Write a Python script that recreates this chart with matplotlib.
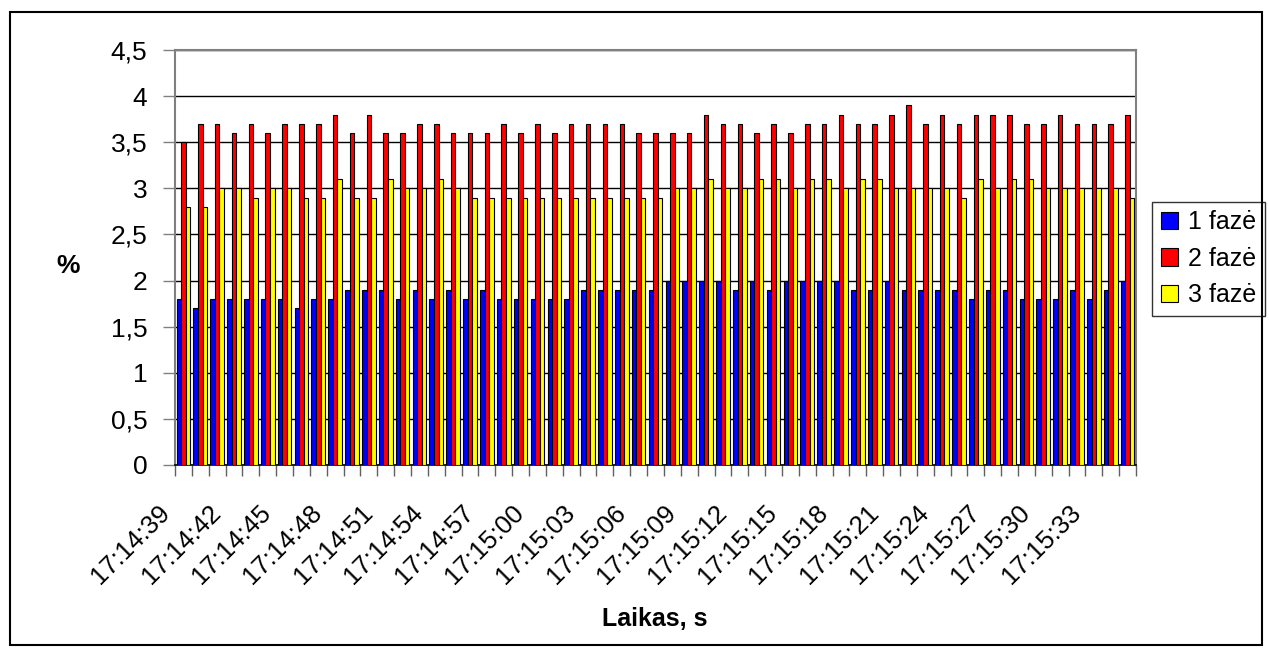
import numpy as np
import matplotlib.pyplot as plt
from matplotlib.patches import Rectangle
from matplotlib.transforms import ScaledTranslation

plt.rcParams['font.family'] = ['Liberation Sans', 'DejaVu Sans']

# time stamps, one per second
times = ["17:14:39", "17:14:40", "17:14:41", "17:14:42", "17:14:43", "17:14:44",
         "17:14:45", "17:14:46", "17:14:47", "17:14:48", "17:14:49", "17:14:50",
         "17:14:51", "17:14:52", "17:14:53", "17:14:54", "17:14:55", "17:14:56",
         "17:14:57", "17:14:58", "17:14:59", "17:15:00", "17:15:01", "17:15:02",
         "17:15:03", "17:15:04", "17:15:05", "17:15:06", "17:15:07", "17:15:08",
         "17:15:09", "17:15:10", "17:15:11", "17:15:12", "17:15:13", "17:15:14",
         "17:15:15", "17:15:16", "17:15:17", "17:15:18", "17:15:19", "17:15:20",
         "17:15:21", "17:15:22", "17:15:23", "17:15:24", "17:15:25", "17:15:26",
         "17:15:27", "17:15:28", "17:15:29", "17:15:30", "17:15:31", "17:15:32",
         "17:15:33", "17:15:34", "17:15:35"]

faze1 = [1.8, 1.7, 1.8, 1.8, 1.8, 1.8, 1.8, 1.7, 1.8, 1.8, 1.9, 1.9, 1.9, 1.8, 1.9,
         1.8, 1.9, 1.8, 1.9, 1.8, 1.8, 1.8, 1.8, 1.8, 1.9, 1.9, 1.9, 1.9, 1.9, 2.0,
         2.0, 2.0, 2.0, 1.9, 2.0, 1.9, 2.0, 2.0, 2.0, 2.0, 1.9, 1.9, 2.0, 1.9, 1.9,
         1.9, 1.9, 1.8, 1.9, 1.9, 1.8, 1.8, 1.8, 1.9, 1.8, 1.9, 2.0]
faze2 = [3.5, 3.7, 3.7, 3.6, 3.7, 3.6, 3.7, 3.7, 3.7, 3.8, 3.6, 3.8, 3.6, 3.6, 3.7,
         3.7, 3.6, 3.6, 3.6, 3.7, 3.6, 3.7, 3.6, 3.7, 3.7, 3.7, 3.7, 3.6, 3.6, 3.6,
         3.6, 3.8, 3.7, 3.7, 3.6, 3.7, 3.6, 3.7, 3.7, 3.8, 3.7, 3.7, 3.8, 3.9, 3.7,
         3.8, 3.7, 3.8, 3.8, 3.8, 3.7, 3.7, 3.8, 3.7, 3.7, 3.7, 3.8]
faze3 = [2.8, 2.8, 3.0, 3.0, 2.9, 3.0, 3.0, 2.9, 2.9, 3.1, 2.9, 2.9, 3.1, 3.0, 3.0,
         3.1, 3.0, 2.9, 2.9, 2.9, 2.9, 2.9, 2.9, 2.9, 2.9, 2.9, 2.9, 2.9, 2.9, 3.0,
         3.0, 3.1, 3.0, 3.0, 3.1, 3.1, 3.0, 3.1, 3.1, 3.0, 3.1, 3.1, 3.0, 3.0, 3.0,
         3.0, 2.9, 3.1, 3.0, 3.1, 3.1, 3.0, 3.0, 3.0, 3.0, 3.0, 2.9]

series = [("1 fazė", faze1, "#0000FF"),
          ("2 fazė", faze2, "#FF0000"),
          ("3 fazė", faze3, "#FFFF00")]

W, H = 1269, 653
fig = plt.figure(figsize=(W / 100, H / 100), dpi=100)
ax = fig.add_axes([175 / W, (H - 465) / H, (1136 - 175) / W, (465 - 50) / H])

x = np.arange(len(times))
bw = 0.27
for k, (name, vals, col) in enumerate(series):
    ax.bar(x + (k - 1) * bw, vals, width=bw, color=col, edgecolor='black',
           linewidth=0.8, label=name, zorder=3)

ax.set_xlim(-0.5, len(times) - 0.5)
ax.set_ylim(0, 4.5)
yt = np.arange(0, 4.51, 0.5)
ax.set_yticks(yt)
ax.set_yticklabels([f"{v:g}".replace('.', ',') for v in yt], fontsize=19)
ax.yaxis.grid(True, color='black', linewidth=1, zorder=0)
ax.tick_params(axis='y', length=9, width=1, color='#808080', pad=11)

# tick marks at category boundaries, labels on every third category
ax.set_xticks(np.arange(-0.5, len(times), 1.0))
ax.set_xticklabels([])
ax.tick_params(axis='x', which='major', length=8, width=1, color='#606060')
ax.set_xticks(x[::3], minor=True)
ax.set_xticklabels(times[::3], minor=True, rotation=45, ha='right',
                   va='center', rotation_mode='anchor', fontsize=18.5)
ax.tick_params(axis='x', which='minor', length=0, pad=0)
shift = ScaledTranslation(-17 / 100, -44 / 100, fig.dpi_scale_trans)
for lab in ax.get_xticklabels(minor=True):
    lab.set_transform(lab.get_transform() + shift)

for s in ['top', 'right', 'left']:
    ax.spines[s].set_color('#808080')
    ax.spines[s].set_linewidth(1.5)
ax.spines['bottom'].set_color('black')
ax.spines['bottom'].set_linewidth(1.2)

fig.text(68 / W, 1 - 266 / H, '%', fontsize=19, fontweight='bold',
         ha='center', va='center')
fig.text(655 / W, 1 - 619 / H, 'Laikas, s', fontsize=18, fontweight='bold',
         ha='center', va='center')

leg = ax.legend(loc='lower left', bbox_to_anchor=(1152 / W, 1 - 316 / H),
                bbox_transform=fig.transFigure, frameon=True, fancybox=False,
                fontsize=18, handlelength=0.7, handleheight=0.7,
                handletextpad=0.4, labelspacing=0.5, borderpad=0.35,
                borderaxespad=0)
leg.get_frame().set_edgecolor('black')
leg.get_frame().set_linewidth(1)

fig.add_artist(Rectangle((10 / W, 1 - 645 / H), 1252 / W, 633 / H,
                         transform=fig.transFigure, fill=False,
                         edgecolor='black', linewidth=1.5))

fig.savefig('out.png', dpi=100)
